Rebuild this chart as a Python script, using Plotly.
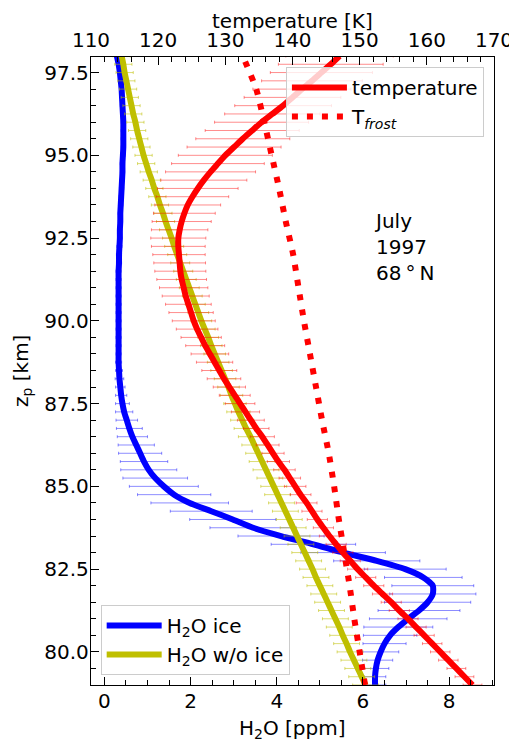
import plotly.graph_objects as go

# altitude grid [km]
Z = [79.0, 79.25, 79.5, 79.75, 80.0, 80.25, 80.5, 80.75, 81.0, 81.25, 81.5, 81.75,
     82.0, 82.25, 82.5, 82.75, 83.0, 83.25, 83.5, 83.75, 84.0, 84.25, 84.5, 84.75,
     85.0, 85.25, 85.5, 85.75, 86.0, 86.25, 86.5, 86.75, 87.0, 87.25, 87.5, 87.75,
     88.0, 88.25, 88.5, 88.75, 89.0, 89.25, 89.5, 89.75, 90.0, 90.25, 90.5, 90.75,
     91.0, 91.25, 91.5, 91.75, 92.0, 92.25, 92.5, 92.75, 93.0, 93.25, 93.5, 93.75,
     94.0, 94.25, 94.5, 94.75, 95.0, 95.25, 95.5, 95.75, 96.0, 96.25, 96.5, 96.75,
     97.0, 97.25, 97.5, 97.75, 98.0]

# H2O with ice [ppm]
H2O_ICE = [6.28, 6.28, 6.30, 6.34, 6.41, 6.50, 6.63, 6.82, 7.05, 7.30, 7.50, 7.62,
           7.62, 7.40, 6.98, 6.32, 5.54, 4.85, 4.10, 3.45, 2.98, 2.48, 1.98, 1.62,
           1.38, 1.18, 1.03, 0.92, 0.83, 0.74, 0.65, 0.58, 0.52, 0.46, 0.42, 0.39,
           0.37, 0.35, 0.34, 0.33, 0.33, 0.33, 0.33, 0.33, 0.33, 0.33, 0.33, 0.33,
           0.33, 0.33, 0.33, 0.34, 0.34, 0.35, 0.36, 0.36, 0.37, 0.37, 0.38, 0.39,
           0.40, 0.41, 0.42, 0.42, 0.43, 0.44, 0.44, 0.44, 0.44, 0.43, 0.42, 0.41,
           0.40, 0.38, 0.36, 0.33, 0.29]
H2O_ICE_ERR = [0.25, 0.25, 0.30, 0.35, 0.42, 0.50, 0.62, 0.80, 0.90, 0.95, 1.00, 1.00,
               0.95, 0.90, 0.95, 1.00, 0.98, 0.98, 1.00, 1.00, 1.00, 0.95, 0.90, 0.85,
               0.80, 0.75, 0.65, 0.55, 0.50, 0.42, 0.35, 0.30, 0.25, 0.20, 0.16, 0.13,
               0.11, 0.10, 0.08, 0.07, 0.06, 0.06, 0.06, 0.06, 0.06, 0.06, 0.06, 0.06,
               0.06, 0.06, 0.06, 0.06, 0.06, 0.06, 0.05, 0.05, 0.05, 0.05, 0.05, 0.05,
               0.05, 0.05, 0.05, 0.05, 0.05, 0.05, 0.05, 0.05, 0.05, 0.05, 0.05, 0.05,
               0.04, 0.04, 0.04, 0.04, 0.04]

# H2O without ice [ppm]
H2O_NOICE = [6.06, 5.97, 5.88, 5.79, 5.70, 5.62, 5.53, 5.45, 5.36, 5.27, 5.18, 5.09,
             5.00, 4.91, 4.83, 4.74, 4.65, 4.56, 4.47, 4.38, 4.29, 4.20, 4.11, 4.02,
             3.93, 3.84, 3.75, 3.66, 3.57, 3.48, 3.39, 3.29, 3.20, 3.11, 3.03, 2.95,
             2.88, 2.80, 2.72, 2.64, 2.56, 2.48, 2.41, 2.33, 2.25, 2.18, 2.11, 2.04,
             1.97, 1.90, 1.83, 1.76, 1.69, 1.62, 1.56, 1.49, 1.42, 1.36, 1.29, 1.23,
             1.16, 1.10, 1.03, 0.97, 0.91, 0.86, 0.81, 0.76, 0.72, 0.67, 0.63, 0.59,
             0.55, 0.51, 0.47, 0.44, 0.40]
H2O_NOICE_ERR = [0.30, 0.30, 0.30, 0.30, 0.30, 0.30, 0.30, 0.30, 0.30, 0.30, 0.30, 0.30,
                 0.30, 0.30, 0.30, 0.30, 0.30, 0.30, 0.30, 0.30, 0.30, 0.30, 0.30, 0.30,
                 0.30, 0.30, 0.30, 0.30, 0.29, 0.29, 0.28, 0.28, 0.27, 0.27, 0.26, 0.26,
                 0.25, 0.25, 0.25, 0.25, 0.25, 0.25, 0.24, 0.24, 0.24, 0.24, 0.23, 0.23,
                 0.23, 0.23, 0.22, 0.22, 0.22, 0.22, 0.21, 0.21, 0.21, 0.21, 0.20, 0.20,
                 0.20, 0.20, 0.20, 0.20, 0.20, 0.20, 0.20, 0.20, 0.20, 0.20, 0.20, 0.20,
                 0.20, 0.20, 0.20, 0.20, 0.20]

# temperature [K]
TEMP = [166.8, 165.6, 164.4, 163.2, 162.0, 160.8, 159.6, 158.4, 157.2, 155.9, 154.7, 153.4,
        152.1, 150.9, 149.7, 148.6, 147.5, 146.5, 145.5, 144.6, 143.7, 142.9, 142.1, 141.2,
        140.4, 139.6, 138.8, 137.9, 137.1, 136.3, 135.5, 134.6, 133.8, 133.0, 132.2, 131.4,
        130.6, 129.8, 129.1, 128.4, 127.7, 127.0, 126.4, 125.8, 125.3, 124.9, 124.5, 124.1,
        123.8, 123.5, 123.3, 123.2, 123.1, 123.0, 123.0, 123.2, 123.5, 123.9, 124.4, 125.1,
        125.9, 126.8, 127.8, 128.9, 130.0, 131.3, 132.6, 134.0, 135.4, 137.0, 138.6, 140.0,
        141.4, 142.9, 144.3, 145.7, 147.0]
TEMP_ERR = [1.4, 1.4, 1.4, 1.45, 1.45, 1.45, 1.5, 1.5, 1.5, 1.5, 1.5, 1.5,
            1.5, 1.5, 1.5, 1.5, 1.5, 1.5, 1.5, 1.5, 1.5, 1.5, 1.55, 1.55,
            1.6, 1.6, 1.6, 1.65, 1.65, 1.7, 1.8, 1.9, 2.0, 2.1, 2.2, 2.3,
            2.4, 2.5, 2.6, 2.7, 2.8, 2.9, 3.0, 3.1, 3.2, 3.3, 3.4, 3.5,
            3.6, 3.7, 3.8, 3.85, 3.9, 4.0, 4.1, 4.2, 4.4, 4.6, 4.9, 5.4,
            6.0, 6.4, 6.7, 6.9, 7.0, 7.0, 7.0, 7.0, 7.0, 7.1, 7.2, 7.2,
            7.3, 7.5, 7.6, 7.8, 8.0]

# frost point temperature [K]
Z_FROST = [79, 80, 81, 82, 83, 84, 85, 86, 87, 88, 89, 90, 91, 92, 93, 94, 95, 96, 97, 98]
T_FROST = [150.8, 150.0, 149.2, 148.5, 147.7, 146.9, 146.2, 145.4, 144.4, 143.5,
           142.6, 141.7, 140.9, 140.1, 139.0, 138.0, 136.9, 135.8, 134.6, 132.6]

FONT = "DejaVu Sans"
FS = 20
BODY = 8  # default page margin of the html body around the figure

fig = go.Figure()

fig.add_trace(go.Scatter(
    x=H2O_ICE, y=Z, mode="lines", name="H<sub>2</sub>O ice",
    line=dict(color="#0000ff", width=6, shape="spline", smoothing=0.6),
    error_x=dict(type="data", array=H2O_ICE_ERR, color="rgba(0,0,255,0.45)",
                 thickness=1, width=1.5),
    legend="legend2"))
fig.add_trace(go.Scatter(
    x=H2O_NOICE, y=Z, mode="lines", name="H<sub>2</sub>O w/o ice",
    line=dict(color="#bfbf00", width=6, shape="spline", smoothing=0.6),
    error_x=dict(type="data", array=H2O_NOICE_ERR, color="rgba(191,191,0,0.55)",
                 thickness=1, width=1.5),
    legend="legend2"))
fig.add_trace(go.Scatter(
    x=TEMP, y=Z, mode="lines", name="temperature", xaxis="x2",
    line=dict(color="#ff0000", width=6, shape="spline", smoothing=0.6),
    error_x=dict(type="data", array=TEMP_ERR, color="rgba(255,0,0,0.45)",
                 thickness=1, width=1.5),
    legend="legend"))
fig.add_trace(go.Scatter(
    x=T_FROST, y=Z_FROST, mode="lines", name="T<sub><i>frost</i></sub>", xaxis="x2",
    line=dict(color="#ff0000", width=6, dash="6px,9px", shape="spline", smoothing=0.6),
    legend="legend"))

axis_common = dict(showline=True, linecolor="black", linewidth=1.3, showgrid=False,
                   zeroline=False, ticks="inside", tickcolor="black", tickwidth=1.3,
                   ticklen=8, automargin=False,
                   tickfont=dict(family=FONT, size=FS, color="black"))

fig.update_layout(
    width=517 - BODY, height=742 - BODY,
    margin=dict(l=91 - BODY, r=23, t=57 - BODY, b=57),
    plot_bgcolor="white", paper_bgcolor="white",
    font=dict(family=FONT, size=FS, color="black"),
    xaxis=dict(range=[-0.31, 9.04], tick0=0, dtick=2, side="bottom", ticklabelstandoff=-2,
               minor=dict(dtick=0.5, ticks="inside", ticklen=5, tickwidth=1.1, tickcolor="black"),
               **axis_common),
    xaxis2=dict(range=[110, 170], tick0=110, dtick=10, side="top", overlaying="x", anchor="y",
                ticklabelstandoff=1,
                minor=dict(dtick=2, ticks="inside", ticklen=5, tickwidth=1.1, tickcolor="black"),
                **axis_common),
    yaxis=dict(range=[79.0, 97.97], tick0=80, dtick=2.5, tickformat=".1f", mirror=True,
               ticklabelstandoff=-3,
               minor=dict(dtick=0.5, ticks="inside", ticklen=5, tickwidth=1.1, tickcolor="black"),
               **axis_common),
    legend=dict(x=0.975, y=0.984, xanchor="right", yanchor="top",
                bgcolor="rgba(255,255,255,0.8)", bordercolor="#cccccc", borderwidth=1,
                font=dict(family=FONT, size=FS), itemwidth=55),
    legend2=dict(x=0.024, y=0.016, xanchor="left", yanchor="bottom",
                 bgcolor="rgba(255,255,255,0.8)", bordercolor="#cccccc", borderwidth=1,
                 font=dict(family=FONT, size=FS), itemwidth=55),
    annotations=[
        dict(text="July<br>1997<br>68\u2009°\u2009N", x=0.697, y=0.698,
             xref="paper", yref="paper", xanchor="left", yanchor="middle",
             align="left", showarrow=False, font=dict(family=FONT, size=FS, color="black")),
        dict(text="temperature [K]", x=0.5, y=1, xref="paper", yref="paper",
             xanchor="center", yanchor="middle", yshift=36, borderpad=0, showarrow=False,
             font=dict(family=FONT, size=FS, color="black")),
        dict(text="H<sub>2</sub>O [ppm]", x=0.5, y=0, xref="paper", yref="paper",
             xanchor="center", yanchor="middle", yshift=-44, borderpad=0, showarrow=False,
             font=dict(family=FONT, size=FS, color="black")),
        dict(text="z<sub>p</sub> [km]", x=0, y=0.5, xref="paper", yref="paper",
             xanchor="center", yanchor="middle", xshift=-69, textangle=-90, showarrow=False,
             font=dict(family=FONT, size=FS, color="black")),
    ],
)

fig.write_html("out.html")
